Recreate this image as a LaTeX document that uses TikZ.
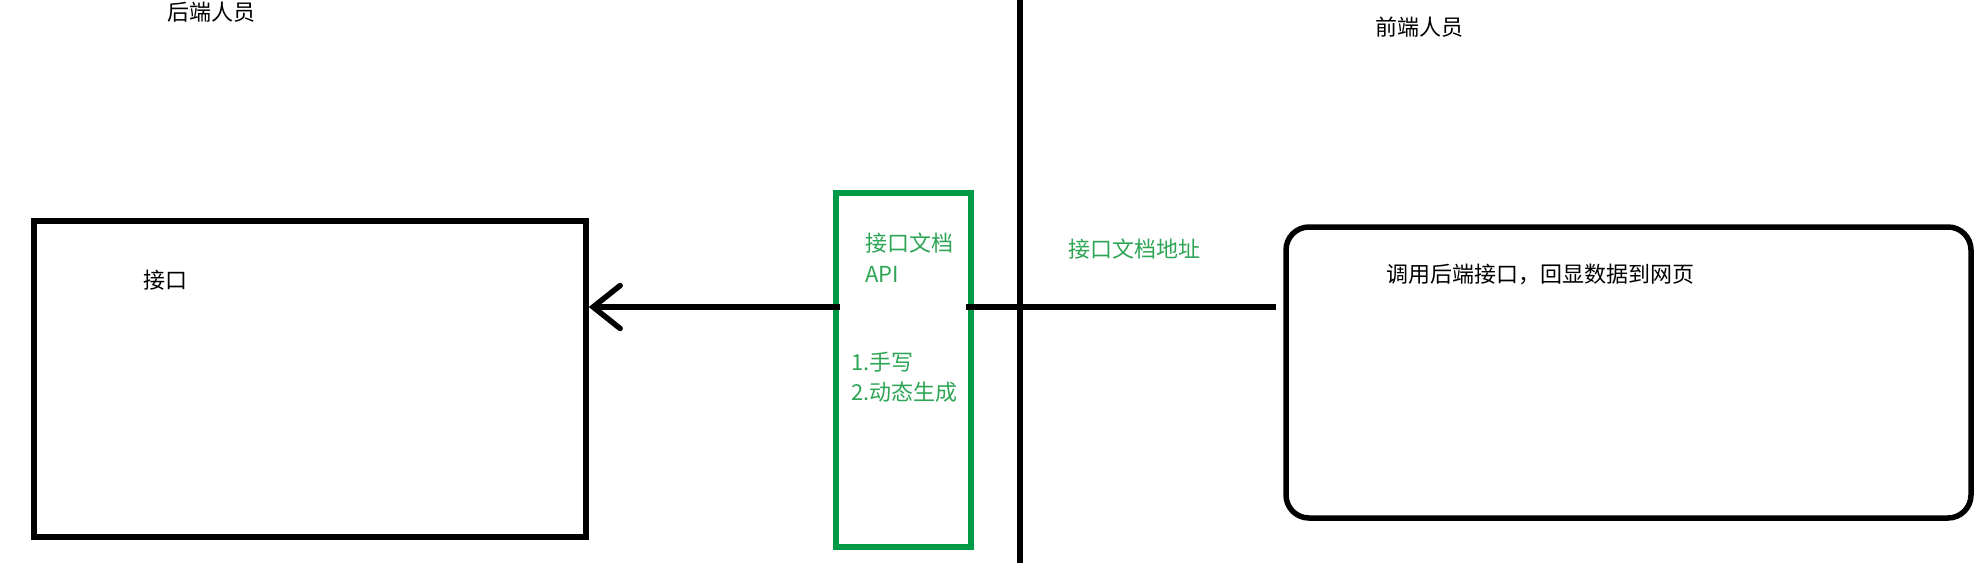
\documentclass[tikz,border=0pt]{standalone}
\usepackage{fontspec}
\usepackage{tikz}
\usetikzlibrary{arrows.meta,positioning}
\newfontfamily\cjk{Noto Sans CJK SC}
\definecolor{docgreen}{RGB}{0,155,70}
\definecolor{doctext}{RGB}{45,165,85}

\begin{document}
\begin{tikzpicture}[x=1pt,y=-1pt,
    txt/.style={font=\cjk\fontsize{22pt}{26pt}\selectfont, inner sep=0pt},
    gtxt/.style={txt, text=doctext, anchor=west},
    heavy/.style={line width=5.5pt}]
      \useasboundingbox (0,0) rectangle (1981,563);
      \node[txt] at (211,12) (back) {后端人员};
      \node[txt] at (1419,27) (front) {前端人员};
      \node[draw, heavy, minimum width=552pt, minimum height=316pt] at (310,379) (iface) {};
      \node[txt] at (165,280) (ifacetxt) {接口};
      \node[draw=docgreen, line width=6pt, minimum width=135pt, minimum height=354pt] at (903.5,370) (doc) {};
      \node[gtxt] at (865,243) (doctitle) {接口文档};
      \node[gtxt] at (865,274) (docapi) {API};
      \node[gtxt] at (851,362) (docone) {1.手写};
      \node[gtxt] at (851,392) (doctwo) {2.动态生成};
      \node[txt, text=doctext] at (1134,249) (addr) {接口文档地址};
      \node[draw, heavy, rounded corners=23pt, minimum width=685pt, minimum height=291pt] at (1628.5,372.5) (web) {};
      \node[txt] at (1540,274) (webtxt) {调用后端接口，回显数据到网页};
      \coordinate (divtop) at (1020,0);
      \coordinate (divbot) at (1020,563);
      \coordinate (link) at (1020,307);
      \draw[line width=6pt] (divtop) -- (divbot);
      \draw[heavy] ([xshift=-7pt]web.west |- link) -- ([xshift=-8pt]doc.east |- link);
      \draw[heavy, -{Straight Barb[length=27pt,width=43pt,line cap=round]}] ([xshift=7pt]doc.west |- link) -- (iface.east |- link);
\end{tikzpicture}
\end{document}
